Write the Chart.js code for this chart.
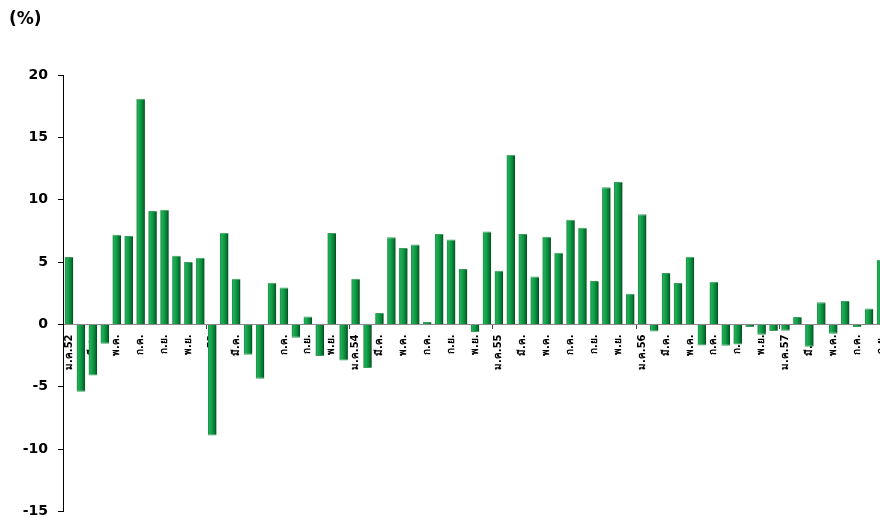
<!DOCTYPE html>
<html>
<head>
<meta charset="utf-8">
<script src="https://cdn.jsdelivr.net/npm/chart.js@4.4.1/dist/chart.umd.min.js"></script>
<style>
  html, body { margin: 0; padding: 0; overflow: hidden; background: #fff; }
  #wrap { position: absolute; left: 0; top: 0; width: 900px; height: 525px; }
</style>
</head>
<body>
<div id="wrap"><canvas id="myChart"></canvas></div>
<script>
// monthly change (%), Jan 2009 (ม.ค.52) .. Sep 2014
const categories = [
  "ม.ค.52","ก.พ.52","มี.ค.52","เม.ย.52","พ.ค.52","มิ.ย.52","ก.ค.52","ส.ค.52","ก.ย.52","ต.ค.52","พ.ย.52","ธ.ค.52",
  "ม.ค.53","ก.พ.53","มี.ค.53","เม.ย.53","พ.ค.53","มิ.ย.53","ก.ค.53","ส.ค.53","ก.ย.53","ต.ค.53","พ.ย.53","ธ.ค.53",
  "ม.ค.54","ก.พ.54","มี.ค.54","เม.ย.54","พ.ค.54","มิ.ย.54","ก.ค.54","ส.ค.54","ก.ย.54","ต.ค.54","พ.ย.54","ธ.ค.54",
  "ม.ค.55","ก.พ.55","มี.ค.55","เม.ย.55","พ.ค.55","มิ.ย.55","ก.ค.55","ส.ค.55","ก.ย.55","ต.ค.55","พ.ย.55","ธ.ค.55",
  "ม.ค.56","ก.พ.56","มี.ค.56","เม.ย.56","พ.ค.56","มิ.ย.56","ก.ค.56","ส.ค.56","ก.ย.56","ต.ค.56","พ.ย.56","ธ.ค.56",
  "ม.ค.57","ก.พ.57","มี.ค.57","เม.ย.57","พ.ค.57","มิ.ย.57","ก.ค.57","ส.ค.57","ก.ย.57"
];

const tickLabels = [
  "ม.ค.52","","มี.ค.","","พ.ค.","","ก.ค.","","ก.ย.","","พ.ย.","",
  "ม.ค.53","","มี.ค.","","พ.ค.","","ก.ค.","","ก.ย.","","พ.ย.","",
  "ม.ค.54","","มี.ค.","","พ.ค.","","ก.ค.","","ก.ย.","","พ.ย.","",
  "ม.ค.55","","มี.ค.","","พ.ค.","","ก.ค.","","ก.ย.","","พ.ย.","",
  "ม.ค.56","","มี.ค.","","พ.ค.","","ก.ค.","","ก.ย.","","พ.ย.","",
  "ม.ค.57","","มี.ค.","","พ.ค.","","ก.ค.","","ก.ย."
];

const values = [
  5.4, -5.4, -4.1, -1.55, 7.2, 7.1, 18.1, 9.1, 9.2, 5.5, 5.0, 5.35,
  -8.9, 7.36, 3.67, -2.43, -4.36, 3.35, 2.97, -1.07, 0.64, -2.54, 7.33, -2.89,
  3.67, -3.5, 0.91, 7.0, 6.13, 6.4, 0.2, 7.25, 6.8, 4.45, -0.6, 7.46,
  4.3, 13.6, 7.25, 3.85, 7.04, 5.75, 8.4, 7.76, 3.48, 11.0, 11.42, 2.46,
  8.83, -0.56, 4.12, 3.32, 5.43, -1.69, 3.42, -1.7, -1.6, -0.2, -0.82, -0.52,
  -0.5, 0.6, -1.78, 1.77, -0.74, 1.87, -0.2, 1.28, 5.19
];

const yMin = -15, yMax = 20, yStep = 5;
const barPct = 0.72;
const font = "'DejaVu Sans', Verdana, sans-serif";

// cylinder-ish shading across each bar
function barFill(c) {
  const chart = c.chart;
  const xs = chart.scales.x;
  if (!xs || c.dataIndex === undefined) return "#0a8f3a";
  const cx = xs.getPixelForValue(c.dataIndex);
  const half = xs.width / categories.length * barPct / 2;
  if (!isFinite(cx) || !isFinite(half) || half <= 0) return "#0a8f3a";
  const g = chart.ctx.createLinearGradient(cx - half, 0, cx + half, 0);
  g.addColorStop(0, "#1a8c45");
  g.addColorStop(0.2, "#22ad55");
  g.addColorStop(0.5, "#0d9a45");
  g.addColorStop(0.8, "#077330");
  g.addColorStop(1, "#04421a");
  return g;
}

const ctx = document.getElementById("myChart");

new Chart(ctx, {
  type: "bar",
  data: {
    labels: categories,
    datasets: [{
      data: values,
      backgroundColor: barFill,
      borderColor: "#3c9a5a",
      borderWidth: { left: 0, right: 0, top: 1, bottom: 1 },
      barPercentage: barPct,
      categoryPercentage: 1
    }]
  },
  options: {
    responsive: true,
    maintainAspectRatio: false,
    animation: false,
    layout: { padding: { left: 9, right: 13, top: 0, bottom: 0 } },
    plugins: {
      legend: { display: false },
      tooltip: { enabled: false },
      title: {
        display: true,
        text: "(%)",
        align: "start",
        color: "#000",
        font: { family: font, size: 17, weight: "bold", lineHeight: 1.2 },
        padding: { top: 9, bottom: 45.6 }
      }
    },
    scales: {
      x: {
        position: { y: 0 },
        afterFit: s => { s.height = 0; s.paddingTop = 0; s.paddingBottom = 0; },
        border: { color: "#8a8a8a", width: 1 },
        grid: {
          drawOnChartArea: false,
          tickLength: 4,
          color: c => (c.index % 12 === 0 && c.index > 0) ? "#444" : "rgba(0,0,0,0)"
        },
        ticks: {
          autoSkip: false,
          minRotation: 90,
          maxRotation: 90,
          padding: 6,
          color: "#000",
          font: { family: font, size: 10, weight: "bold" },
          callback: (v, i) => tickLabels[i]
        }
      },
      y: {
        min: yMin,
        max: yMax,
        afterFit: s => { s.width = 54; },
        border: { color: "#000", width: 1 },
        grid: { drawOnChartArea: false, tickLength: 5, color: "#000" },
        ticks: {
          stepSize: yStep,
          padding: 10,
          color: "#000",
          font: { family: font, size: 14, weight: "bold", lineHeight: 0.5 }
        }
      }
    }
  }
});
</script>
</body>
</html>
